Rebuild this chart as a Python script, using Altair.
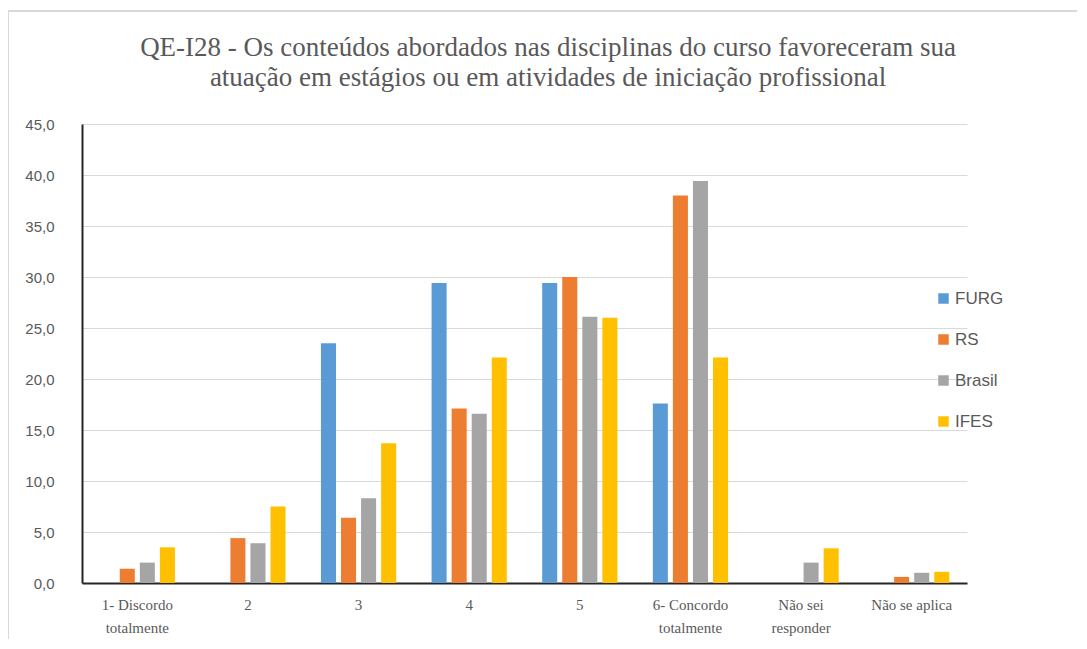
import altair as alt
import pandas as pd

categories = ["1- Discordo\ntotalmente", "2", "3", "4", "5", "6- Concordo\ntotalmente",
              "Não sei\nresponder", "Não se aplica"]
series = ["FURG", "RS", "Brasil", "IFES"]
furg = [0.0, 0.0, 23.5, 29.4, 29.4, 17.6, 0.0, 0.0]
rs = [1.4, 4.4, 6.4, 17.1, 30.0, 38.0, 0.0, 0.6]
brasil = [2.0, 3.9, 8.3, 16.6, 26.1, 39.4, 2.0, 1.0]
ifes = [3.5, 7.5, 13.7, 22.1, 26.0, 22.1, 3.4, 1.1]
colors = ["#5B9BD5", "#ED7D31", "#A5A5A5", "#FFC000"]
title_lines = ["QE-I28 - Os conteúdos abordados nas disciplinas do curso favoreceram sua",
               "atuação em estágios ou em atividades de iniciação profissional"]

rows = []
for name, vals in zip(series, [furg, rs, brasil, ifes]):
    for c, v in zip(categories, vals):
        rows.append({"cat": c, "serie": name, "valor": v})
df = pd.DataFrame(rows)

W, H = 885, 459

bars = alt.Chart(df).mark_bar().encode(
    x=alt.X("cat:N", sort=categories,
            scale=alt.Scale(paddingInner=0.32, paddingOuter=0.16),
            axis=alt.Axis(title=None, labelAngle=0, ticks=False, domain=True,
                          domainColor="#262626", domainWidth=2,
                          labelFont="Liberation Serif", labelFontSize=15,
                          labelColor="#595959", labelPadding=14, labelLineHeight=23,
                          labelExpr="split(datum.label, '\\n')")),
    xOffset=alt.XOffset("serie:N", sort=series, scale=alt.Scale(paddingInner=0.25)),
    y=alt.Y("valor:Q", scale=alt.Scale(domain=[0, 45], nice=False),
            axis=alt.Axis(title=None, values=[0, 5, 10, 15, 20, 25, 30, 35, 40, 45],
                          ticks=False, domain=True, domainColor="#262626", domainWidth=2,
                          gridColor="#d9d9d9", gridWidth=1,
                          labelFont="Liberation Sans", labelFontSize=15,
                          labelColor="#595959", labelPadding=28,
                          labelExpr="replace(format(datum.value, '.1f'), '.', ',')")),
    color=alt.Color("serie:N", sort=series,
                    scale=alt.Scale(domain=series, range=colors),
                    legend=alt.Legend(title=None, orient="none", legendX=853, legendY=166,
                                      symbolType="square", symbolSize=110,
                                      symbolStrokeWidth=0,
                                      labelFont="Liberation Sans", labelFontSize=17,
                                      labelColor="#595959", rowPadding=23,
                                      labelOffset=3)),
)

frame = pd.DataFrame({"k": [0]})
top_border = alt.Chart(frame).mark_rule(color="#d9d9d9", strokeWidth=2, clip=False).encode(
    x=alt.value(-74), x2=alt.value(1000), y=alt.value(-113))
left_border = alt.Chart(frame).mark_rule(color="#d9d9d9", strokeWidth=2, clip=False).encode(
    x=alt.value(-74), y=alt.value(-113), y2=alt.value(H + 70))
title = alt.Chart(frame).mark_text(
    font="Liberation Serif", fontSize=27, color="#595959", align="center",
    baseline="alphabetic", lineHeight=30, clip=False
).encode(x=alt.value(466), y=alt.value(-68), text=alt.value(title_lines))

chart = alt.layer(top_border, left_border, title, bars).properties(
    width=W, height=H,
    autosize=alt.AutoSizeParams(type="none"),
    padding={"left": 74, "top": 116, "right": 110, "bottom": 56},
).configure_view(stroke=None).configure_axis(grid=True).configure_axisX(grid=False)

chart.save("out.html", embed_options={"renderer": "svg", "actions": False})
